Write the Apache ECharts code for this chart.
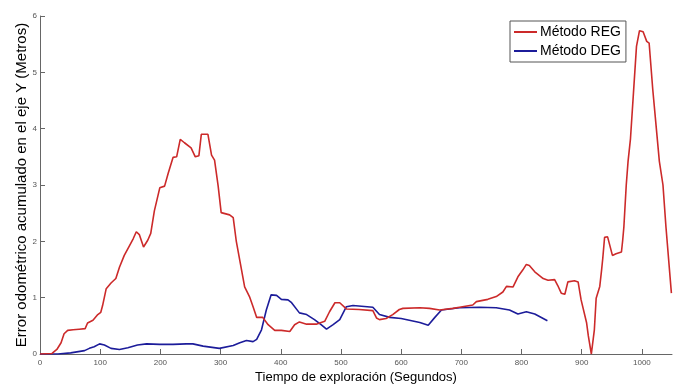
<!DOCTYPE html>
<html>
<head>
<meta charset="utf-8">
<script src="https://cdn.jsdelivr.net/npm/echarts@6/dist/echarts.min.js"></script>
<style>
  html, body { margin: 0; padding: 0; background: #fff; }
  #chart { width: 685px; height: 389px; }
</style>
</head>
<body>
<div id="chart"></div>
<script>
// Accumulated odometric error on the Y axis over exploration time
const regTime = [0, 20, 28, 35, 40, 46, 55, 65, 75, 79, 88, 96, 101, 104, 110, 118, 126, 132, 140, 149, 155, 160, 165, 172, 179, 184, 190, 199, 207, 213, 221, 227, 233, 240, 251, 258, 264, 268, 279, 285, 290, 296, 301, 315, 321, 326, 333, 340, 348, 354, 360, 370, 379, 390, 401, 415, 423, 431, 443, 459, 473, 481, 490, 498, 509, 530, 553, 559, 564, 575, 586, 597, 603, 631, 647, 664, 686, 697, 719, 725, 744, 758, 769, 775, 786, 794, 802, 808, 813, 822, 836, 844, 855, 860, 866, 872, 877, 888, 894, 899, 908, 911, 916, 921, 924, 930, 933, 935, 938, 943, 951, 957, 966, 968, 970, 974, 977, 981, 986, 991, 996, 1002, 1008, 1012, 1018, 1024, 1029, 1035, 1040, 1049];
const regError = [0, 0.01, 0.08, 0.20, 0.36, 0.42, 0.43, 0.44, 0.45, 0.55, 0.60, 0.70, 0.74, 0.86, 1.16, 1.26, 1.34, 1.54, 1.75, 1.93, 2.05, 2.17, 2.12, 1.90, 2.02, 2.14, 2.54, 2.95, 2.98, 3.21, 3.49, 3.50, 3.81, 3.75, 3.66, 3.50, 3.52, 3.90, 3.90, 3.53, 3.44, 2.98, 2.51, 2.47, 2.42, 2.01, 1.60, 1.19, 1.02, 0.84, 0.65, 0.65, 0.52, 0.42, 0.42, 0.40, 0.52, 0.57, 0.53, 0.53, 0.58, 0.75, 0.91, 0.91, 0.80, 0.79, 0.77, 0.64, 0.61, 0.63, 0.70, 0.79, 0.81, 0.82, 0.81, 0.78, 0.81, 0.83, 0.87, 0.93, 0.97, 1.02, 1.10, 1.20, 1.19, 1.37, 1.49, 1.59, 1.57, 1.46, 1.34, 1.31, 1.32, 1.22, 1.08, 1.06, 1.28, 1.30, 1.28, 0.96, 0.56, 0.32, 0.00, 0.43, 0.99, 1.20, 1.49, 1.70, 2.07, 2.08, 1.75, 1.78, 1.81, 2.01, 2.25, 3.00, 3.42, 3.82, 4.64, 5.46, 5.74, 5.72, 5.55, 5.52, 4.70, 4.00, 3.42, 3.00, 2.25, 1.08];

const degTime = [0, 30, 51, 74, 82, 90, 99, 107, 118, 132, 146, 162, 177, 199, 221, 243, 254, 271, 298, 321, 332, 343, 354, 360, 368, 376, 384, 393, 401, 412, 418, 431, 443, 456, 467, 476, 487, 498, 509, 520, 553, 564, 581, 600, 631, 645, 656, 667, 697, 730, 758, 780, 794, 808, 822, 843];
const degError = [0, 0.00, 0.02, 0.06, 0.10, 0.13, 0.18, 0.16, 0.10, 0.08, 0.11, 0.16, 0.18, 0.17, 0.17, 0.18, 0.18, 0.14, 0.10, 0.15, 0.20, 0.24, 0.22, 0.26, 0.43, 0.78, 1.05, 1.04, 0.97, 0.96, 0.91, 0.73, 0.70, 0.61, 0.52, 0.44, 0.52, 0.61, 0.84, 0.86, 0.83, 0.70, 0.65, 0.63, 0.56, 0.51, 0.65, 0.78, 0.82, 0.83, 0.82, 0.78, 0.71, 0.75, 0.71, 0.59];

const xTicks = [0, 100, 200, 300, 400, 500, 600, 700, 800, 900, 1000];
const seriesNames = ['Método REG', 'Método DEG'];

const zip = (xs, ys) => xs.map((x, i) => [x, ys[i]]);
const font = '"Liberation Sans", Arial, sans-serif';

const chart = echarts.init(document.getElementById('chart'), null, { renderer: 'canvas' });
chart.setOption({
  animation: false,
  backgroundColor: '#ffffff',
  grid: { left: 40, right: 13, top: 16, bottom: 31, containLabel: false },
  legend: {
    orient: 'vertical',
    left: 510,
    top: 21,
    padding: [4, 5, 4, 4],
    itemGap: 5,
    itemWidth: 23,
    itemHeight: 2,
    icon: 'rect',
    borderColor: '#555',
    borderWidth: 1,
    backgroundColor: '#fff',
    textStyle: { fontFamily: font, fontSize: 14, color: '#000', padding: [0, 0, 0, -2] },
    data: seriesNames
  },
  xAxis: {
    type: 'value',
    min: 0,
    max: 1050,
    interval: 100,
    name: 'Tiempo de exploración (Segundos)',
    nameLocation: 'middle',
    nameGap: 17,
    nameMoveOverlap: false,
    nameTextStyle: { fontFamily: font, fontSize: 13, color: '#000', verticalAlign: 'top' },
    axisLine: { show: true, lineStyle: { color: '#666', width: 1 } },
    axisTick: { show: true, inside: true, length: 5, customValues: xTicks, lineStyle: { color: '#666' } },
    axisLabel: {
      customValues: xTicks,
      formatter: v => String(v),
      fontFamily: font, fontSize: 8, color: '#555', margin: 5
    },
    splitLine: { show: false }
  },
  yAxis: {
    type: 'value',
    min: 0,
    max: 6,
    interval: 1,
    name: 'Error odométrico acumulado en el eje Y (Metros)',
    nameLocation: 'middle',
    nameGap: 11,
    nameMoveOverlap: false,
    nameTextStyle: { fontFamily: font, fontSize: 15, color: '#000' },
    axisLine: { show: true, lineStyle: { color: '#666', width: 1 } },
    axisTick: { show: true, inside: true, length: 5, lineStyle: { color: '#666' } },
    axisLabel: { fontFamily: font, fontSize: 8, color: '#555', margin: 3 },
    splitLine: { show: false }
  },
  series: [
    {
      name: seriesNames[0],
      type: 'line',
      data: zip(regTime, regError),
      symbol: 'none',
      lineStyle: { color: '#cc2a2a', width: 1.6 },
      itemStyle: { color: '#cc2a2a' },
      z: 3
    },
    {
      name: seriesNames[1],
      type: 'line',
      data: zip(degTime, degError),
      symbol: 'none',
      lineStyle: { color: '#1c1c9a', width: 1.6 },
      itemStyle: { color: '#1c1c9a' },
      z: 2
    }
  ]
});
</script>
</body>
</html>
